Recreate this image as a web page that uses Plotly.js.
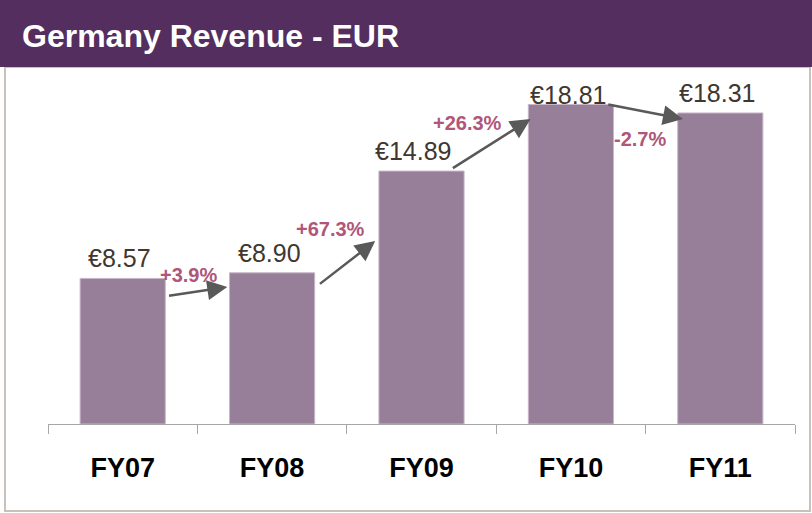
<!DOCTYPE html>
<html>
<head>
<meta charset="utf-8">
<script src="https://cdn.plot.ly/plotly-3.0.1.min.js"></script>
<style>html,body{margin:0;padding:0;background:#fff;}#chart{width:812px;height:513px;}</style>
</head>
<body>
<div id="chart"></div>
<script>
// ---- data ----
var categories = ['FY07', 'FY08', 'FY09', 'FY10', 'FY11'];
var revenue = [8.57, 8.90, 14.89, 18.81, 18.31];
var growthLabels = ['+3.9%', '+67.3%', '+26.3%', '-2.7%'];
var chartTitle = 'Germany Revenue - EUR';

// ---- layout helpers ----
var W = 812, H = 513;
var mL = 48, mR = 17, mT = 80, mB = 89;
var pw = W - mL - mR, ph = H - mT - mB;
function px(x) { return (x - mL) / pw; }       // page px -> paper x
function py(y) { return (H - mB - y) / ph; }   // page px -> paper y

var font = 'Liberation Sans, Arial, Helvetica, sans-serif';

var annotations = [];
// value labels
revenue.forEach(function (v, i) {
  annotations.push({
    x: categories[i], y: v, xref: 'x', yref: 'y',
    text: '\u20AC' + v.toFixed(2), showarrow: false,
    yanchor: 'middle', xanchor: 'center',
    yshift: i === 3 ? 9 : 20, xshift: i === 2 ? -9 : -3,
    font: {family: font, size: 25, color: '#40372f'}
  });
});
// growth labels (placed between bars)
var growthPos = [[0.44, 8.77], [1.39, 11.48], [2.31, 17.72], [3.46, 16.77]];
growthLabels.forEach(function (t, i) {
  annotations.push({
    x: growthPos[i][0], y: growthPos[i][1], xref: 'x', yref: 'y',
    text: '<b>' + t + '</b>', showarrow: false,
    xanchor: 'center', yanchor: 'middle',
    font: {family: font, size: 20, color: '#b0567a'}
  });
});
// growth arrows [tailX, tailY, headX, headY]
var arrows = [
  [0.30, 7.53, 0.70, 8.06],
  [1.31, 8.18, 1.69, 10.77],
  [2.20, 15.01, 2.73, 17.95],
  [3.24, 18.83, 3.75, 17.95]
];
arrows.forEach(function (a) {
  annotations.push({
    x: a[2], y: a[3], ax: a[0], ay: a[1],
    xref: 'x', yref: 'y', axref: 'x', ayref: 'y',
    text: '', showarrow: true, arrowhead: 2, arrowsize: 1.6,
    arrowwidth: 2.5, arrowcolor: '#595959', standoff: 0, startstandoff: 0
  });
});

var shapes = [
  // frame
  {type: 'rect', xref: 'paper', yref: 'paper',
   x0: px(5), x1: px(810), y0: py(511), y1: py(67),
   line: {color: '#c9c2bb', width: 2}, fillcolor: 'rgba(0,0,0,0)', layer: 'below'},
  // header band
  {type: 'rect', xref: 'paper', yref: 'paper',
   x0: px(0), x1: px(812), y0: py(67), y1: py(-2),
   line: {width: 0}, fillcolor: '#532e5f', layer: 'below'}
];

var trace = {
  type: 'bar', x: categories, y: revenue,
  marker: {color: '#977f99', line: {color: '#c8b6c8', width: 1}},
  hoverinfo: 'skip'
};

var layout = {
  width: W, height: H,
  margin: {l: mL, r: mR, t: mT, b: mB, pad: 0},
  paper_bgcolor: '#ffffff', plot_bgcolor: '#ffffff',
  showlegend: false,
  bargap: 0.43,
  title: {
    text: '<b>' + chartTitle + '</b>',
    font: {family: font, size: 32, color: '#ffffff'},
    xref: 'container', yref: 'container',
    x: 22 / W, xanchor: 'left', y: 1 - 36 / H, yanchor: 'middle'
  },
  xaxis: {
    type: 'category', range: [-0.5, 4.5],
    showline: true, linecolor: '#a6a6a6', linewidth: 1,
    ticks: 'outside', tickson: 'boundaries', ticklen: 9, tickcolor: '#a6a6a6', tickwidth: 1,
    ticklabelstandoff: 20,
    tickfont: {family: font, size: 27, color: '#000000', weight: 'bold'},
    showgrid: false, zeroline: false, fixedrange: true
  },
  yaxis: {
    range: [0, 20.25], visible: false, showgrid: false, zeroline: false, fixedrange: true
  },
  annotations: annotations,
  shapes: shapes
};

Plotly.newPlot('chart', [trace], layout, {staticPlot: true, displayModeBar: false});
</script>
</body>
</html>
